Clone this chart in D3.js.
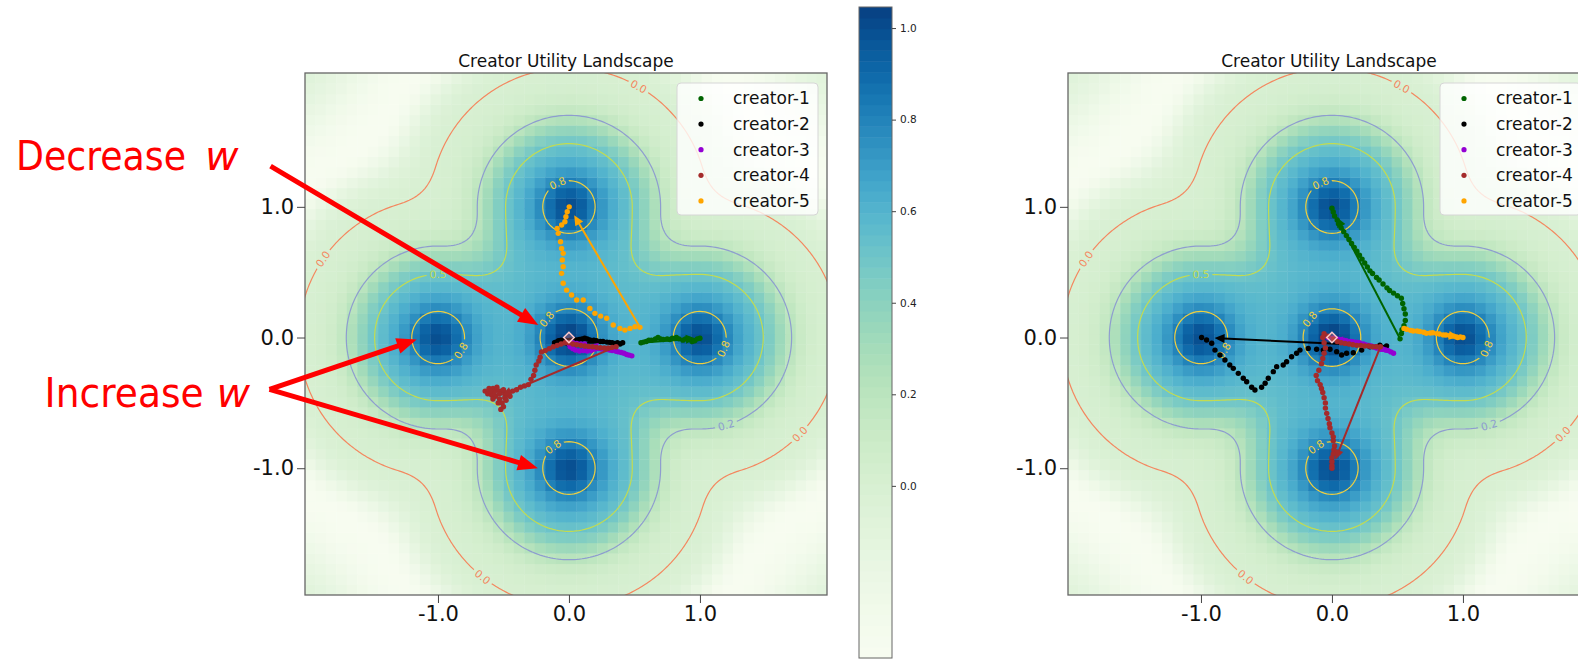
<!DOCTYPE html>
<html>
<head>
<meta charset="utf-8">
<script src="https://cdn.jsdelivr.net/npm/d3@7"></script>
<style>
  body { margin: 0; background: #fff; }
  svg { display: block; }
  text { font-family: 'DejaVu Sans', sans-serif; }
</style>
</head>
<body>
<div id="container"></div>
<script>
// ---------- data ----------
const creatorNames = ['creator-1', 'creator-2', 'creator-3', 'creator-4', 'creator-5'];
const creatorColors = ['#006400', '#000000', '#9400d3', '#a52a2a', '#ffa500'];
const axisTicks = [-1, 0, 1];
const colorbarTicks = [0, 0.2, 0.4, 0.6, 0.8, 1.0];
const valueRange = [-0.376, 1.046];
const colorGamma = 1.3;
const xExtent = [-2.015, 1.97];
const yExtent = [-1.97, 2.024];

// landscape: five peaks joined by a plus-shaped ridge
const peakX = [0, -1, 1, 0, 0];
const peakY = [0, 0, 0, 1, -1];
const peakHeight = [0.47, 0.42, 0.42, 0.42, 0.42];
const peakWidth = 0.179;
const armSegments = [[-1, 0, 1, 0], [0, -1, 0, 1]];
const ridgeHeight = 0.58, ridgeEdge = 0.64, ridgeSoftness = 0.093;
const troughDepth = 0.37, troughAt = 1.55, troughInner = 0.17, troughOuter = 0.35;
const cornerBlend = 0.25;

const contourLevels = [0, 0.2, 0.5, 0.8];
const contourColors = ['#f4875f', '#8e9dcf', '#c3dc50', '#f0cf3f'];
const labelLevel = [0.8, 0.8, 0.8, 0.8, 0.8, 0.5, 0.2, 0, 0, 0, 0];
const labelX = [-0.10, -0.18, -0.86, 1.19, -0.10, -1.0, 1.19, 0.51, -1.85, 1.74, -0.64];
const labelY = [1.19, 0.15, -0.08, -0.10, -0.85, 0.455, -0.64, 1.89, 0.59, -0.72, -1.81];

// trajectories, first point = start, last point = end
const leftCreator1 = [[0.55,-0.04],[0.57,-0.035],[0.59,-0.03],[0.61,-0.02],[0.63,-0.02],[0.66,-0.01],[0.68,0.0],[0.70,-0.01],[0.72,-0.015],[0.75,-0.01],[0.77,-0.015],[0.79,-0.005],[0.82,0.0],[0.84,-0.01],[0.87,-0.02],[0.89,-0.01],[0.92,-0.015],[0.94,-0.03],[0.96,-0.025],[0.98,-0.01],[1.0,-0.005]];
const leftCreator2 = [[0.41,-0.04],[0.39,-0.05],[0.37,-0.04],[0.35,-0.045],[0.33,-0.04],[0.31,-0.037],[0.29,-0.035],[0.26,-0.03],[0.24,-0.03],[0.21,-0.024],[0.19,-0.02],[0.16,-0.019],[0.14,-0.01],[0.12,-0.006],[0.10,-0.01],[0.08,-0.014],[0.06,-0.018],[0.04,-0.02],[0.01,-0.02],[-0.02,-0.022],[-0.04,-0.024],[-0.06,-0.02],[-0.08,-0.024],[-0.10,-0.035],[-0.11,-0.04]];
const leftCreator3 = [[0.48,-0.14],[0.46,-0.135],[0.44,-0.13],[0.42,-0.12],[0.40,-0.115],[0.38,-0.11],[0.36,-0.105],[0.33,-0.1],[0.31,-0.095],[0.28,-0.09],[0.25,-0.088],[0.22,-0.083],[0.19,-0.09],[0.17,-0.1],[0.14,-0.103],[0.11,-0.1],[0.08,-0.103],[0.05,-0.096],[0.03,-0.085],[0.01,-0.07],[0.0,-0.05],[0.03,-0.04],[0.06,-0.045],[0.09,-0.05],[0.12,-0.05]];
const leftCreator4 = [[0.36,-0.07],[0.33,-0.075],[0.30,-0.08],[0.27,-0.08],[0.24,-0.078],[0.21,-0.075],[0.18,-0.07],[0.15,-0.068],[0.12,-0.065],[0.09,-0.06],[0.06,-0.055],[0.03,-0.05],[0.0,-0.04],[-0.03,-0.04],[-0.06,-0.05],[-0.09,-0.06],[-0.12,-0.07],[-0.15,-0.085],[-0.18,-0.1],[-0.21,-0.11],[-0.22,-0.15],[-0.23,-0.18],[-0.25,-0.21],[-0.26,-0.25],[-0.27,-0.29],[-0.29,-0.32],[-0.31,-0.36],[-0.34,-0.37],[-0.37,-0.38],[-0.40,-0.40],[-0.43,-0.41],[-0.46,-0.42],[-0.49,-0.43],[-0.52,-0.41],[-0.55,-0.40],[-0.58,-0.39],[-0.61,-0.39],[-0.64,-0.41],[-0.62,-0.43],[-0.59,-0.44],[-0.56,-0.45],[-0.53,-0.47],[-0.51,-0.50],[-0.50,-0.53],[-0.52,-0.55],[-0.49,-0.46],[-0.47,-0.44],[-0.45,-0.45],[-0.53,-0.43],[-0.57,-0.42],[-0.60,-0.41],[-0.55,-0.38],[-0.50,-0.40],[-0.48,-0.48],[-0.54,-0.50],[-0.58,-0.47]];
const leftCreator5 = [[0.542,0.078],[0.504,0.083],[0.466,0.07],[0.427,0.057],[0.389,0.07],[0.338,0.096],[0.288,0.147],[0.242,0.164],[0.198,0.185],[0.16,0.223],[0.109,0.287],[0.059,0.287],[0.02,0.325],[-0.018,0.363],[-0.044,0.415],[-0.056,0.491],[-0.044,0.542],[-0.051,0.593],[-0.044,0.644],[-0.056,0.682],[-0.064,0.733],[-0.082,0.797],[-0.09,0.835],[-0.056,0.861],[-0.031,0.886],[-0.023,0.924],[-0.013,0.962],[0.002,1.0]];

const rightCreator1 = [[0.52,-0.01],[0.53,0.03],[0.535,0.06],[0.55,0.09],[0.56,0.13],[0.56,0.18],[0.55,0.22],[0.54,0.26],[0.53,0.30],[0.50,0.32],[0.47,0.34],[0.44,0.36],[0.42,0.38],[0.39,0.41],[0.36,0.44],[0.34,0.46],[0.31,0.49],[0.29,0.51],[0.27,0.54],[0.25,0.57],[0.23,0.60],[0.21,0.63],[0.19,0.66],[0.17,0.69],[0.15,0.72],[0.13,0.75],[0.11,0.78],[0.09,0.81],[0.07,0.84],[0.05,0.87],[0.04,0.90],[0.02,0.93],[0.01,0.96],[0.0,0.99]];
const rightCreator2 = [[0.417,-0.065],[0.366,-0.058],[0.29,-0.07],[0.227,-0.096],[0.163,-0.116],[0.112,-0.12],[0.074,-0.134],[0.036,-0.108],[-0.015,-0.09],[-0.066,-0.096],[-0.117,-0.09],[-0.181,-0.083],[-0.244,-0.096],[-0.27,-0.12],[-0.308,-0.147],[-0.346,-0.185],[-0.372,-0.21],[-0.422,-0.223],[-0.448,-0.261],[-0.486,-0.312],[-0.51,-0.35],[-0.537,-0.381],[-0.588,-0.402],[-0.613,-0.381],[-0.651,-0.338],[-0.677,-0.312],[-0.715,-0.274],[-0.753,-0.236],[-0.78,-0.21],[-0.817,-0.172],[-0.855,-0.134],[-0.893,-0.096],[-0.918,-0.044],[-0.957,-0.019],[-0.995,0.0]];
const rightCreator3 = [[0.47,-0.12],[0.45,-0.11],[0.43,-0.10],[0.41,-0.095],[0.39,-0.09],[0.37,-0.09],[0.34,-0.08],[0.32,-0.07],[0.30,-0.065],[0.28,-0.06],[0.26,-0.057],[0.24,-0.05],[0.21,-0.04],[0.19,-0.035],[0.16,-0.032],[0.14,-0.03],[0.11,-0.025],[0.09,-0.02],[0.06,-0.019],[0.04,-0.01],[0.01,-0.006],[-0.03,0.0]];
const rightCreator4 = [[0.37,-0.07],[0.34,-0.07],[0.31,-0.07],[0.28,-0.065],[0.25,-0.065],[0.22,-0.06],[0.19,-0.06],[0.16,-0.055],[0.13,-0.05],[0.10,-0.045],[0.07,-0.04],[0.04,-0.03],[0.01,-0.01],[-0.03,0.01],[-0.06,0.03],[-0.07,0.0],[-0.06,-0.04],[-0.05,-0.08],[-0.06,-0.12],[-0.07,-0.16],[-0.08,-0.20],[-0.10,-0.25],[-0.12,-0.29],[-0.11,-0.33],[-0.09,-0.36],[-0.08,-0.39],[-0.07,-0.42],[-0.06,-0.46],[-0.05,-0.50],[-0.05,-0.54],[-0.04,-0.58],[-0.03,-0.62],[-0.02,-0.66],[-0.015,-0.69],[0.0,-0.73],[0.01,-0.76],[0.01,-0.79],[0.02,-0.83],[0.015,-0.86],[0.01,-0.89],[0.0,-0.92],[0.0,-0.95],[0.0,-0.98],[0.0,-1.0]];
const rightCreator5 = [[0.55,0.07],[0.57,0.063],[0.60,0.055],[0.62,0.05],[0.65,0.05],[0.67,0.046],[0.70,0.04],[0.72,0.032],[0.75,0.035],[0.77,0.037],[0.80,0.03],[0.82,0.027],[0.85,0.02],[0.87,0.019],[0.90,0.015],[0.93,0.011],[0.95,0.005],[0.96,0.0],[0.98,0.005],[1.0,0.0]];

const arrowReach = 0.93;

// red annotations (left panel data coordinates)
const noteWords = ['Decrease', 'Increase'];
const noteFrom = [[-2.278, 1.312], [-2.286, -0.396], [-2.286, -0.396]];
const noteTo = [[-0.234, 0.096], [-1.162, -0.015], [-0.237, -1.0]];

// ---------- layout ----------
const W = 1578, H = 659;
const plotSize = 522, plotTop = 73;
const panelLefts = [305, 1068];
const cbar = { x: 859, w: 33, top: 7, bottom: 658 };
const nCells = 50;

const svg = d3.select('#container').append('svg')
  .attr('width', W).attr('height', H);
svg.append('rect').attr('width', W).attr('height', H).attr('fill', '#fff');

const color = d3.scaleSequential(t => d3.interpolateGnBu(Math.pow(t, colorGamma)))
  .domain(valueRange).clamp(true);

function segDist(x, y, s) {
  const [x1, y1, x2, y2] = s;
  const dx = x2 - x1, dy = y2 - y1;
  let t = ((x - x1) * dx + (y - y1) * dy) / (dx * dx + dy * dy);
  t = Math.max(0, Math.min(1, t));
  return Math.hypot(x - (x1 + t * dx), y - (y1 + t * dy));
}
function smin(a, b, k) {
  const h = Math.max(k - Math.abs(a - b), 0) / k;
  return Math.min(a, b) - h * h * k / 4;
}
function utility(x, y) {
  const d = smin(segDist(x, y, armSegments[0]), segDist(x, y, armSegments[1]), cornerBlend);
  let v = ridgeHeight / (1 + Math.exp((d - ridgeEdge) / ridgeSoftness));
  const w = d < troughAt ? troughInner : troughOuter;
  v -= troughDepth * Math.exp(-((d - troughAt) ** 2) / (2 * w * w));
  peakX.forEach((px, i) => {
    const r2 = (x - px) ** 2 + (y - peakY[i]) ** 2;
    v += peakHeight[i] * Math.exp(-r2 / (2 * peakWidth * peakWidth));
  });
  return v;
}

// heatmap cells
const cw = (xExtent[1] - xExtent[0]) / nCells;
const ch = (yExtent[1] - yExtent[0]) / nCells;
const cells = [];
for (let j = 0; j < nCells; j++) {
  for (let i = 0; i < nCells; i++) {
    const x0 = xExtent[0] + i * cw, y0 = yExtent[0] + j * ch;
    cells.push({ x0, x1: x0 + cw, y0, y1: y0 + ch, v: utility(x0 + cw / 2, y0 + ch / 2) });
  }
}

// fine grid for contours (wider than the plot so rings close inside)
const gStep = 0.02, gMin = -2.6, gN = 261;
const gridValues = new Array(gN * gN);
for (let r = 0; r < gN; r++) {
  for (let c = 0; c < gN; c++) {
    gridValues[r * gN + c] = utility(gMin + c * gStep, -gMin - r * gStep);
  }
}
const contours = d3.contours().size([gN, gN]).thresholds(contourLevels)(gridValues);

const legendData = creatorNames.map((n, i) => ({ name: n, color: creatorColors[i] }));

function drawPanel(left, trajectories, id) {
  const x = d3.scaleLinear().domain(xExtent).range([left, left + plotSize]);
  const y = d3.scaleLinear().domain(yExtent).range([plotTop + plotSize, plotTop]);
  const g = svg.append('g');

  g.append('clipPath').attr('id', 'clip-' + id)
    .append('rect').attr('x', left).attr('y', plotTop)
    .attr('width', plotSize).attr('height', plotSize);

  const body = g.append('g').attr('clip-path', `url(#clip-${id})`);

  body.append('g').selectAll('rect').data(cells).enter().append('rect')
    .attr('x', d => x(d.x0))
    .attr('y', d => y(d.y1))
    .attr('width', d => x(d.x1) - x(d.x0) + 0.4)
    .attr('height', d => y(d.y0) - y(d.y1) + 0.4)
    .attr('fill', d => color(d.v));

  // contours
  const toPx = (c, r) => [x(gMin + (c - 0.5) * gStep), y(-gMin - (r - 0.5) * gStep)];
  const proj = d3.geoTransform({
    point: function (c, r) { const p = toPx(c, r); this.stream.point(p[0], p[1]); }
  });
  const path = d3.geoPath(proj);

  const mask = g.append('mask').attr('id', 'mask-' + id)
    .attr('maskUnits', 'userSpaceOnUse')
    .attr('x', 0).attr('y', 0).attr('width', W).attr('height', H);
  mask.append('rect').attr('width', W).attr('height', H).attr('fill', '#fff');

  body.append('g').attr('mask', `url(#mask-${id})`)
    .selectAll('path').data(contours).enter().append('path')
    .attr('d', path)
    .attr('fill', 'none')
    .attr('stroke', (d, i) => contourColors[i])
    .attr('stroke-width', 1.2);

  // contour labels
  const labelsG = body.append('g');
  labelLevel.forEach((lv, k) => {
    const li = contourLevels.indexOf(lv);
    const ax = x(labelX[k]), ay = y(labelY[k]);
    let best = null;
    contours[li].coordinates.forEach(poly => poly.forEach(ring => {
      const pts = ring.map(p => toPx(p[0], p[1]));
      pts.forEach((p, i) => {
        const dd = (p[0] - ax) ** 2 + (p[1] - ay) ** 2;
        if (!best || dd < best.dd) best = { dd, pts, i };
      });
    }));
    const n = best.pts.length;
    const p = best.pts[best.i];
    const a = best.pts[(best.i - 3 + n) % n], b = best.pts[(best.i + 3) % n];
    let ang = Math.atan2(b[1] - a[1], b[0] - a[0]) * 180 / Math.PI;
    if (ang > 90) ang -= 180;
    if (ang < -90) ang += 180;
    const t = labelsG.append('text')
      .attr('transform', `translate(${p[0]},${p[1]}) rotate(${ang})`)
      .attr('text-anchor', 'middle')
      .attr('dy', '0.35em')
      .attr('font-size', 10.5)
      .attr('fill', contourColors[li])
      .text(lv.toFixed(1));
    const tw = t.node().getComputedTextLength();
    mask.append('rect')
      .attr('x', -tw / 2 - 3).attr('y', -6)
      .attr('width', tw + 6).attr('height', 12)
      .attr('fill', '#000')
      .attr('transform', `translate(${p[0]},${p[1]}) rotate(${ang})`);
  });

  // trajectories
  trajectories.forEach((pts, ci) => {
    const col = creatorColors[ci];
    body.append('g').selectAll('circle').data(pts).enter().append('circle')
      .attr('cx', d => x(d[0])).attr('cy', d => y(d[1]))
      .attr('r', 2.7).attr('fill', col);
    const s = pts[0], e = pts[pts.length - 1];
    const sx = x(s[0]), sy = y(s[1]);
    const tx = sx + arrowReach * (x(e[0]) - sx), ty = sy + arrowReach * (y(e[1]) - sy);
    drawArrow(body, sx, sy, tx, ty, col, 2, 10, 4.5);
  });

  // start marker
  body.append('path')
    .attr('d', d3.symbol(d3.symbolDiamond2, 70)())
    .attr('transform', `translate(${x(0)},${y(0)})`)
    .attr('fill', 'rgba(230,120,120,0.35)')
    .attr('stroke', '#ffc8c8').attr('stroke-width', 1.5);

  // frame
  g.append('rect').attr('x', left).attr('y', plotTop)
    .attr('width', plotSize).attr('height', plotSize)
    .attr('fill', 'none').attr('stroke', '#666').attr('stroke-width', 1.3);

  // axes
  const fmt = d => d.toFixed(1);
  const yAxis = g.append('g').attr('transform', `translate(${left},0)`)
    .call(d3.axisLeft(y).tickValues(axisTicks).tickFormat(fmt).tickSize(8).tickPadding(3));
  const xAxis = g.append('g').attr('transform', `translate(0,${plotTop + plotSize})`)
    .call(d3.axisBottom(x).tickValues(axisTicks).tickFormat(fmt).tickSize(8).tickPadding(3));
  [xAxis, yAxis].forEach(a => {
    a.select('.domain').remove();
    a.selectAll('line').attr('stroke', '#444');
    a.selectAll('text').attr('font-size', 21).attr('fill', '#111')
      .attr('font-family', "'DejaVu Sans', sans-serif");
  });

  // title
  g.append('text')
    .attr('x', left + plotSize / 2).attr('y', 67)
    .attr('text-anchor', 'middle').attr('font-size', 17).attr('fill', '#111')
    .text('Creator Utility Landscape');

  // legend
  const lg = g.append('g').attr('transform', `translate(${left + 372},${plotTop + 10})`);
  lg.append('rect').attr('width', 141).attr('height', 132).attr('rx', 4)
    .attr('fill', 'rgba(255,255,255,0.8)').attr('stroke', '#d6d6d6');
  const items = lg.selectAll('g').data(legendData).enter().append('g')
    .attr('transform', (d, i) => `translate(0,${15.5 + i * 25.6})`);
  items.append('circle').attr('cx', 24).attr('r', 2.6).attr('fill', d => d.color);
  items.append('text').attr('x', 56).attr('dy', '0.35em')
    .attr('font-size', 17).attr('fill', '#111').text(d => d.name);

  return { x, y };
}

function drawArrow(parent, x1, y1, x2, y2, col, width, headLen, headHalf) {
  const dx = x2 - x1, dy = y2 - y1, len = Math.hypot(dx, dy);
  const ux = dx / len, uy = dy / len;
  const bx = x2 - ux * headLen, by = y2 - uy * headLen;
  parent.append('line')
    .attr('x1', x1).attr('y1', y1).attr('x2', bx + ux * 1).attr('y2', by + uy * 1)
    .attr('stroke', col).attr('stroke-width', width);
  parent.append('path')
    .attr('d', `M${x2},${y2}L${bx - uy * headHalf},${by + ux * headHalf}L${bx + uy * headHalf},${by - ux * headHalf}Z`)
    .attr('fill', col);
}

const leftScales = drawPanel(panelLefts[0],
  [leftCreator1, leftCreator2, leftCreator3, leftCreator4, leftCreator5], 'L');
drawPanel(panelLefts[1],
  [rightCreator1, rightCreator2, rightCreator3, rightCreator4, rightCreator5], 'R');

// colorbar
const cy = d3.scaleLinear().domain(valueRange).range([cbar.bottom, cbar.top]);
const bands = d3.range(60).map(i => valueRange[0] + (i + 0.5) * (valueRange[1] - valueRange[0]) / 60);
const bandH = (cbar.bottom - cbar.top) / 60;
svg.append('g').selectAll('rect').data(bands).enter().append('rect')
  .attr('x', cbar.x).attr('width', cbar.w)
  .attr('y', d => cy(d) - bandH / 2).attr('height', bandH + 0.5)
  .attr('fill', d => color(d));
svg.append('rect').attr('x', cbar.x).attr('y', cbar.top)
  .attr('width', cbar.w).attr('height', cbar.bottom - cbar.top)
  .attr('fill', 'none').attr('stroke', '#666').attr('stroke-width', 1);
const cAxis = svg.append('g').attr('transform', `translate(${cbar.x + cbar.w},0)`)
  .call(d3.axisRight(cy).tickValues(colorbarTicks).tickFormat(d => d.toFixed(1)).tickSize(4).tickPadding(4));
cAxis.select('.domain').remove();
cAxis.selectAll('line').attr('stroke', '#444');
cAxis.selectAll('text').attr('font-size', 10.5).attr('fill', '#222')
  .attr('font-family', "'DejaVu Sans', sans-serif");

// red annotations
const notes = svg.append('g');
noteFrom.forEach((f, i) => {
  drawArrow(notes, leftScales.x(f[0]), leftScales.y(f[1]),
    leftScales.x(noteTo[i][0]), leftScales.y(noteTo[i][1]), '#ff0000', 5, 20, 8);
});
const noteX = [16, 44.6], noteWordWidth = [170, 159], noteGap = [19, 13], noteBase = [170, 407];
noteWords.forEach((t, i) => {
  notes.append('text')
    .attr('x', noteX[i]).attr('y', noteBase[i])
    .attr('textLength', noteWordWidth[i]).attr('lengthAdjust', 'spacingAndGlyphs')
    .attr('font-family', 'Lato, sans-serif').attr('font-size', 41).attr('fill', '#ff0000')
    .text(t);
  notes.append('text')
    .attr('x', noteX[i] + noteWordWidth[i] + noteGap[i]).attr('y', noteBase[i])
    .attr('font-family', 'Lato, sans-serif').attr('font-style', 'italic')
    .attr('font-size', 41).attr('fill', '#ff0000')
    .text('w');
});
</script>
</body>
</html>
